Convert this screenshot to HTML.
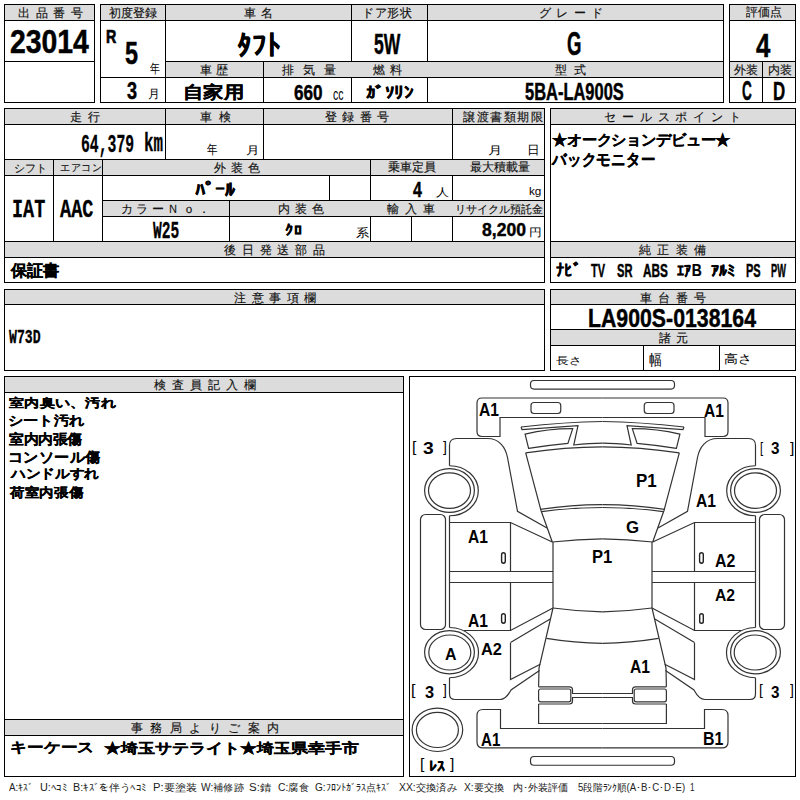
<!DOCTYPE html>
<html lang="ja"><head><meta charset="utf-8">
<style>
html,body{margin:0;padding:0;background:#fff;width:800px;height:800px;overflow:hidden;}
body{position:relative;font-family:"Liberation Sans",sans-serif;color:#000;}
.b{position:absolute;box-sizing:border-box;border:1px solid #000;}
.l{position:absolute;background:#000;}
.g{position:absolute;background:#dcdcdc;}
.lab{position:absolute;display:flex;align-items:center;color:#111;-webkit-text-stroke:0.15px #111;line-height:1;white-space:nowrap;}
.vsb,.vsn,.vmb,.vmn,.vcb,.vhb,.vkb{position:absolute;white-space:nowrap;line-height:1;transform-origin:0 0;color:#000;}
.vsb{font-weight:bold}.vcb{font-weight:bold;-webkit-text-stroke:0.25px #000}.vhb{font-weight:bold;-webkit-text-stroke:0.45px #000}.vkb{font-weight:bold;font-family:'Liberation Mono',monospace;-webkit-text-stroke:0.3px #000}.vmb{font-weight:bold;font-family:'Liberation Mono',monospace}.vmn{font-family:'Liberation Mono',monospace}
</style></head><body>
<div class="b" style="left:4px;top:4px;width:91px;height:99px"></div>
<div class="g" style="left:5px;top:5px;width:89px;height:15px"></div>
<div class="l" style="left:4px;top:20px;width:91px;height:1px"></div>
<div class="l" style="left:4px;top:61px;width:91px;height:1px"></div>
<div class="lab" style="left:18px;width:65px;top:5px;height:16px;font-size:12px;justify-content:space-between"><span>出</span><span>品</span><span>番</span><span>号</span></div>
<div class="b" style="left:100px;top:4px;width:624px;height:99px"></div>
<div class="g" style="left:101px;top:5px;width:622px;height:15px"></div>
<div class="l" style="left:100px;top:20px;width:624px;height:1px"></div>
<div class="l" style="left:165px;top:4px;width:1px;height:99px"></div>
<div class="l" style="left:351px;top:4px;width:1px;height:99px"></div>
<div class="l" style="left:427px;top:4px;width:1px;height:99px"></div>
<div class="g" style="left:166px;top:62px;width:557px;height:15px"></div>
<div class="l" style="left:165px;top:61px;width:559px;height:1px"></div>
<div class="l" style="left:100px;top:77px;width:624px;height:1px"></div>
<div class="l" style="left:263px;top:61px;width:1px;height:42px"></div>
<div class="lab" style="left:109px;width:48px;top:5px;height:16px;font-size:12px;justify-content:space-between"><span>初</span><span>度</span><span>登</span><span>録</span></div>
<div class="lab" style="left:244px;width:29px;top:5px;height:16px;font-size:12px;justify-content:space-between"><span>車</span><span>名</span></div>
<div class="lab" style="left:362px;width:50px;top:5px;height:16px;font-size:12px;justify-content:space-between"><span>ド</span><span>ア</span><span>形</span><span>状</span></div>
<div class="lab" style="left:539px;width:64px;top:5px;height:16px;font-size:12px;justify-content:space-between"><span>グ</span><span>レ</span><span>ー</span><span>ド</span></div>
<div class="lab" style="left:200px;width:28px;top:62px;height:16px;font-size:12px;justify-content:space-between"><span>車</span><span>歴</span></div>
<div class="lab" style="left:282px;width:54px;top:62px;height:16px;font-size:12px;justify-content:space-between"><span>排</span><span>気</span><span>量</span></div>
<div class="lab" style="left:373px;width:29px;top:62px;height:16px;font-size:12px;justify-content:space-between"><span>燃</span><span>料</span></div>
<div class="lab" style="left:555px;width:31px;top:62px;height:16px;font-size:12px;justify-content:space-between"><span>型</span><span>式</span></div>
<div class="b" style="left:729px;top:4px;width:67px;height:99px"></div>
<div class="g" style="left:730px;top:5px;width:65px;height:15px"></div>
<div class="l" style="left:729px;top:20px;width:67px;height:1px"></div>
<div class="g" style="left:730px;top:62px;width:65px;height:15px"></div>
<div class="l" style="left:729px;top:61px;width:67px;height:1px"></div>
<div class="l" style="left:729px;top:77px;width:67px;height:1px"></div>
<div class="l" style="left:762px;top:61px;width:1px;height:42px"></div>
<div class="lab" style="left:746px;width:34px;top:5px;height:16px;font-size:11.5px;justify-content:space-between"><span>評</span><span>価</span><span>点</span></div>
<div class="lab" style="left:734px;width:24px;top:62px;height:16px;font-size:12px;justify-content:space-between"><span>外</span><span>装</span></div>
<div class="lab" style="left:767.5px;width:24.5px;top:62px;height:16px;font-size:12px;justify-content:space-between"><span>内</span><span>装</span></div>
<div class="b" style="left:4px;top:108px;width:541px;height:175px"></div>
<div class="g" style="left:5px;top:109px;width:539px;height:15px"></div>
<div class="l" style="left:4px;top:124px;width:541px;height:1px"></div>
<div class="l" style="left:165px;top:108px;width:1px;height:52px"></div>
<div class="l" style="left:263px;top:108px;width:1px;height:52px"></div>
<div class="l" style="left:452px;top:108px;width:1px;height:134px"></div>
<div class="l" style="left:4px;top:159px;width:541px;height:1px"></div>
<div class="g" style="left:5px;top:160px;width:539px;height:15px"></div>
<div class="l" style="left:4px;top:175px;width:541px;height:1px"></div>
<div class="l" style="left:53px;top:159px;width:1px;height:83px"></div>
<div class="l" style="left:102px;top:159px;width:1px;height:83px"></div>
<div class="l" style="left:370px;top:159px;width:1px;height:83px"></div>
<div class="l" style="left:329px;top:175px;width:1px;height:26px"></div>
<div class="l" style="left:102px;top:200px;width:443px;height:1px"></div>
<div class="g" style="left:103px;top:201px;width:441px;height:15px"></div>
<div class="l" style="left:102px;top:216px;width:443px;height:1px"></div>
<div class="l" style="left:229px;top:200px;width:1px;height:42px"></div>
<div class="l" style="left:411px;top:216px;width:1px;height:26px"></div>
<div class="l" style="left:4px;top:241px;width:541px;height:1px"></div>
<div class="g" style="left:5px;top:242px;width:539px;height:15px"></div>
<div class="l" style="left:4px;top:257px;width:541px;height:1px"></div>
<div class="lab" style="left:70px;width:30px;top:109px;height:16px;font-size:12px;justify-content:space-between"><span>走</span><span>行</span></div>
<div class="lab" style="left:200px;width:31px;top:109px;height:16px;font-size:12px;justify-content:space-between"><span>車</span><span>検</span></div>
<div class="lab" style="left:325px;width:64px;top:109px;height:16px;font-size:12px;justify-content:space-between"><span>登</span><span>録</span><span>番</span><span>号</span></div>
<div class="lab" style="left:463px;width:79.70000000000005px;top:109px;height:16px;font-size:12px;justify-content:space-between"><span>譲</span><span>渡</span><span>書</span><span>類</span><span>期</span><span>限</span></div>
<div class="lab" style="left:14px;width:31.5px;top:160px;height:16px;font-size:10.5px;justify-content:space-between"><span>シ</span><span>フ</span><span>ト</span></div>
<div class="lab" style="left:60px;width:41.5px;top:160px;height:16px;font-size:10.3px;justify-content:space-between"><span>エ</span><span>ア</span><span>コ</span><span>ン</span></div>
<div class="lab" style="left:214px;width:46px;top:160px;height:16px;font-size:12px;justify-content:space-between"><span>外</span><span>装</span><span>色</span></div>
<div class="lab" style="left:387.5px;width:47.5px;top:160px;height:16px;font-size:11.8px;justify-content:space-between"><span>乗</span><span>車</span><span>定</span><span>員</span></div>
<div class="lab" style="left:469.5px;width:59.25px;top:160px;height:16px;font-size:11.8px;justify-content:space-between"><span>最</span><span>大</span><span>積</span><span>載</span><span>量</span></div>
<div class="lab" style="left:121px;width:89px;top:201px;height:16px;font-size:12px;justify-content:space-between"><span>カ</span><span>ラ</span><span>ー</span><span>Ｎ</span><span>ｏ</span><span>．</span></div>
<div class="lab" style="left:278px;width:46px;top:201px;height:16px;font-size:12px;justify-content:space-between"><span>内</span><span>装</span><span>色</span></div>
<div class="lab" style="left:387px;width:48px;top:201px;height:16px;font-size:12px;justify-content:space-between"><span>輸</span><span>入</span><span>車</span></div>
<div class="lab" style="left:455px;width:86.79999999999995px;top:201px;height:16px;font-size:10.8px;justify-content:space-between"><span>リ</span><span>サ</span><span>イ</span><span>ク</span><span>ル</span><span>預</span><span>託</span><span>金</span></div>
<div class="lab" style="left:224px;width:101px;top:242px;height:16px;font-size:12px;justify-content:space-between"><span>後</span><span>日</span><span>発</span><span>送</span><span>部</span><span>品</span></div>
<div class="b" style="left:550px;top:108px;width:246px;height:175px"></div>
<div class="g" style="left:551px;top:109px;width:244px;height:15px"></div>
<div class="l" style="left:550px;top:124px;width:246px;height:1px"></div>
<div class="g" style="left:551px;top:242px;width:244px;height:15px"></div>
<div class="l" style="left:550px;top:241px;width:246px;height:1px"></div>
<div class="l" style="left:550px;top:257px;width:246px;height:1px"></div>
<div class="lab" style="left:604px;width:137px;top:109px;height:16px;font-size:12px;justify-content:space-between"><span>セ</span><span>ー</span><span>ル</span><span>ス</span><span>ポ</span><span>イ</span><span>ン</span><span>ト</span></div>
<div class="lab" style="left:639px;width:67px;top:242px;height:16px;font-size:12px;justify-content:space-between"><span>純</span><span>正</span><span>装</span><span>備</span></div>
<div class="b" style="left:4px;top:289px;width:541px;height:82px"></div>
<div class="g" style="left:5px;top:290px;width:539px;height:14px"></div>
<div class="l" style="left:4px;top:304px;width:541px;height:1px"></div>
<div class="lab" style="left:234px;width:82px;top:290px;height:15px;font-size:12px;justify-content:space-between"><span>注</span><span>意</span><span>事</span><span>項</span><span>欄</span></div>
<div class="b" style="left:550px;top:289px;width:246px;height:82px"></div>
<div class="g" style="left:551px;top:290px;width:244px;height:14px"></div>
<div class="l" style="left:550px;top:304px;width:246px;height:1px"></div>
<div class="g" style="left:551px;top:330px;width:244px;height:15px"></div>
<div class="l" style="left:550px;top:329px;width:246px;height:1px"></div>
<div class="l" style="left:550px;top:345px;width:246px;height:1px"></div>
<div class="l" style="left:643px;top:345px;width:1px;height:26px"></div>
<div class="l" style="left:719px;top:345px;width:1px;height:26px"></div>
<div class="lab" style="left:640px;width:66px;top:290px;height:15px;font-size:12px;justify-content:space-between"><span>車</span><span>台</span><span>番</span><span>号</span></div>
<div class="lab" style="left:659px;width:29px;top:330px;height:16px;font-size:12px;justify-content:space-between"><span>諸</span><span>元</span></div>
<div class="b" style="left:4px;top:376px;width:400px;height:401px"></div>
<div class="g" style="left:5px;top:377px;width:398px;height:15px"></div>
<div class="l" style="left:4px;top:392px;width:400px;height:1px"></div>
<div class="g" style="left:5px;top:720px;width:398px;height:15px"></div>
<div class="l" style="left:4px;top:719px;width:400px;height:1px"></div>
<div class="l" style="left:4px;top:735px;width:400px;height:1px"></div>
<div class="lab" style="left:154px;width:102px;top:377px;height:16px;font-size:12px;justify-content:space-between"><span>検</span><span>査</span><span>員</span><span>記</span><span>入</span><span>欄</span></div>
<div class="lab" style="left:131px;width:148px;top:720px;height:16px;font-size:12px;justify-content:space-between"><span>事</span><span>務</span><span>局</span><span>よ</span><span>り</span><span>ご</span><span>案</span><span>内</span></div>
<div class="b" style="left:409px;top:376px;width:387px;height:401px"></div>
<svg width="800" height="800" viewBox="0 0 800 800" style="position:absolute;left:0;top:0"><g fill="none" stroke="#333" stroke-width="1.2"><g id="hf">
<path d="M602.5 398H482Q477 398 477 403V431.5Q477 436.5 482 436.5H500V417.5H602.5"/>
<rect x="531" y="402.5" width="29.75" height="11" rx="3"/>
<path d="M521 427Q565 422 602.5 421.5"/>
<path d="M521 427L522 429.5L578 425.6L573.75 445Q590 443.3 602.5 443.2"/>
<path d="M525.1 434.2Q548.9 428.55 572.7 428.7L567.9 443.4Q547.75 445.3 528.6 448.4Z"/>
<path d="M525.7 452.8Q565 447 602.5 446.8"/>
<path d="M525.7 452.8L541 510.5L552.3 542"/>
<path d="M540.25 509.3Q572 504.5 602.5 504.6"/>
<path d="M541.75 511.7Q572 507.5 602.5 507.5"/>
<path d="M552.3 542Q578 539 602.5 538.8"/>
<path d="M449.5 465.75V445.5Q449.5 438.5 456.5 438.5H487.5C499 438.5 505.5 447 507.5 457.5L517.5 511.25L547 528"/>
<path d="M449.5 465.75A28.8 25 0 0 1 449.5 515.75"/>
<ellipse cx="449.5" cy="490.5" rx="24.9" ry="21.9"/>
<ellipse cx="449.5" cy="490.6" rx="21" ry="17.8"/>
<rect x="420.5" y="514.5" width="25" height="115" rx="5"/>
<path d="M449.5 515.75V627.5"/>
<path d="M449.5 522.5H510.5L552.3 542"/>
<path d="M510.5 522.5V571.5M510.5 582.5V630.5"/>
<path d="M449.5 571.5H553M449.5 582.5H553"/>
<path d="M553 542V608"/>
<path d="M553 608Q578 611.5 602.5 611.8"/>
<path d="M463.7 630.5H510.5L553 608"/>
<path d="M449.5 627.5A29 25.1 0 0 1 449.5 677.75"/>
<ellipse cx="449.5" cy="652.2" rx="24.9" ry="21.6"/>
<ellipse cx="449.8" cy="652.5" rx="21" ry="17.5"/>
<path d="M539.5 670.5L511 690Q506 699.5 500 699.5H455Q449.5 699.5 449.5 694V677.75"/>
<path d="M510.5 642.5L550.2 619"/>
<path d="M510.5 642.75V679.5L540.25 664.2"/>
<path d="M553 608L539 668L538.6 686.8"/>
<path d="M546.5 638.3Q575 643 602.5 643.3"/>
<path d="M538.6 686.8H569.5Q572.5 686.8 572.5 689.8V693.5H602.5M602.5 697.5H572.5V701Q572.5 704 569.5 704H538.6"/>
<rect x="538.6" y="689" width="32.2" height="12.8" rx="2"/>
<path d="M538.6 704V723.5H602.5"/>
<path d="M602.5 728.5H500.5V709.5H483Q477 709.5 477 715.5V741.9Q477 747.9 483 747.9H602.5"/>
</g><g transform="matrix(-1 0 0 1 1205 0)">
<path d="M602.5 398H482Q477 398 477 403V431.5Q477 436.5 482 436.5H500V417.5H602.5"/>
<rect x="531" y="402.5" width="29.75" height="11" rx="3"/>
<path d="M521 427Q565 422 602.5 421.5"/>
<path d="M521 427L522 429.5L578 425.6L573.75 445Q590 443.3 602.5 443.2"/>
<path d="M525.1 434.2Q548.9 428.55 572.7 428.7L567.9 443.4Q547.75 445.3 528.6 448.4Z"/>
<path d="M525.7 452.8Q565 447 602.5 446.8"/>
<path d="M525.7 452.8L541 510.5L552.3 542"/>
<path d="M540.25 509.3Q572 504.5 602.5 504.6"/>
<path d="M541.75 511.7Q572 507.5 602.5 507.5"/>
<path d="M552.3 542Q578 539 602.5 538.8"/>
<path d="M449.5 465.75V445.5Q449.5 438.5 456.5 438.5H487.5C499 438.5 505.5 447 507.5 457.5L517.5 511.25L547 528"/>
<path d="M449.5 465.75A28.8 25 0 0 1 449.5 515.75"/>
<ellipse cx="449.5" cy="490.5" rx="24.9" ry="21.9"/>
<ellipse cx="449.5" cy="490.6" rx="21" ry="17.8"/>
<rect x="420.5" y="514.5" width="25" height="115" rx="5"/>
<path d="M449.5 515.75V627.5"/>
<path d="M449.5 522.5H510.5L552.3 542"/>
<path d="M510.5 522.5V571.5M510.5 582.5V630.5"/>
<path d="M449.5 571.5H553M449.5 582.5H553"/>
<path d="M553 542V608"/>
<path d="M553 608Q578 611.5 602.5 611.8"/>
<path d="M463.7 630.5H510.5L553 608"/>
<path d="M449.5 627.5A29 25.1 0 0 1 449.5 677.75"/>
<ellipse cx="449.5" cy="652.2" rx="24.9" ry="21.6"/>
<ellipse cx="449.8" cy="652.5" rx="21" ry="17.5"/>
<path d="M539.5 670.5L511 690Q506 699.5 500 699.5H455Q449.5 699.5 449.5 694V677.75"/>
<path d="M510.5 642.5L550.2 619"/>
<path d="M510.5 642.75V679.5L540.25 664.2"/>
<path d="M553 608L539 668L538.6 686.8"/>
<path d="M546.5 638.3Q575 643 602.5 643.3"/>
<path d="M538.6 686.8H569.5Q572.5 686.8 572.5 689.8V693.5H602.5M602.5 697.5H572.5V701Q572.5 704 569.5 704H538.6"/>
<rect x="538.6" y="689" width="32.2" height="12.8" rx="2"/>
<path d="M538.6 704V723.5H602.5"/>
<path d="M602.5 728.5H500.5V709.5H483Q477 709.5 477 715.5V741.9Q477 747.9 483 747.9H602.5"/>
</g>
<rect x="530.5" y="380.5" width="144" height="8.6" rx="3.5"/>
<rect x="530.5" y="756.5" width="144" height="8.75" rx="3.5"/>
<ellipse cx="437.4" cy="729.8" rx="25.3" ry="21.7"/>
<ellipse cx="437.4" cy="729.9" rx="21" ry="17.6"/>
</g><g fill="none" stroke="#222" stroke-width="1.4"><rect x="501.60" y="552.80" width="3.70" height="10.40" rx="1.85"/><rect x="501.60" y="613.70" width="3.70" height="9.50" rx="1.85"/><rect x="699.60" y="552.70" width="3.70" height="10.50" rx="1.85"/><rect x="699.70" y="613.70" width="3.60" height="9.50" rx="1.80"/></g></svg>
<div class="vhb" style="left:10.00px;top:25.00px;font-size:32px;transform:scale(0.8864,1.0455);">23014</div>
<div class="vcb" style="left:105.50px;top:27.00px;font-size:19px;transform:scale(0.7500,1.0000);-webkit-text-stroke:0.7px #000;">R</div>
<div class="vhb" style="left:125.00px;top:38.00px;font-size:31px;transform:scale(0.7545,1.0000);">5</div>
<div class="vsn" style="left:150.00px;top:62.00px;font-size:12px;transform:scale(0.8418,1.1000);">年</div>
<div class="vhb" style="left:126.50px;top:79.00px;font-size:24px;transform:scale(0.7542,1.0000);">3</div>
<div class="vsn" style="left:148.00px;top:87.50px;font-size:12px;transform:scale(1.0000,1.0129);">月</div>
<div class="vcb" style="left:237.00px;top:31.75px;font-size:28px;transform:scale(1.0500,1.0006);">ﾀﾌﾄ</div>
<div class="vhb" style="left:374.00px;top:30.00px;font-size:29px;transform:scale(0.6051,1.0000);">5W</div>
<div class="vhb" style="left:567.00px;top:28.00px;font-size:30px;transform:scale(0.6190,1.0833);">G</div>
<div class="vhb" style="left:755.50px;top:29.00px;font-size:33px;transform:scale(0.7796,1.0000);">4</div>
<div class="vcb" style="left:183.00px;top:83.50px;font-size:18px;transform:scale(1.1374,0.9488);">自家用</div>
<div class="vhb" style="left:294.00px;top:82.00px;font-size:22px;transform:scale(0.7783,1.0079);">660</div>
<div class="vsn" style="left:333.00px;top:87.00px;font-size:16px;transform:scale(0.6565,1.0283);">cc</div>
<div class="vcb" style="left:365.50px;top:85.00px;font-size:16px;transform:scale(1.1753,0.9883);">ｶﾞｿﾘﾝ</div>
<div class="vhb" style="left:524.50px;top:80.50px;font-size:23px;transform:scale(0.7155,1.0058);">5BA-LA900S</div>
<div class="vhb" style="left:741.50px;top:78.00px;font-size:27px;transform:scale(0.5051,1.0000);">C</div>
<div class="vhb" style="left:772.50px;top:77.50px;font-size:26px;transform:scale(0.6500,1.0000);">D</div>
<div class="vkb" style="left:81.00px;top:133.00px;font-size:25px;transform:scale(0.5909,1.0046);">64,379</div>
<div class="vkb" style="left:143.75px;top:132.00px;font-size:26px;transform:scale(0.6098,0.9694);">km</div>
<div class="vsn" style="left:207.00px;top:143.00px;font-size:12px;transform:scale(0.8946,1.1000);">年</div>
<div class="vsn" style="left:246.00px;top:145.00px;font-size:11px;transform:scale(1.2284,1.0000);">月</div>
<div class="vsn" style="left:487.50px;top:145.00px;font-size:11px;transform:scale(1.3008,1.0000);">月</div>
<div class="vsn" style="left:527.00px;top:144.00px;font-size:11px;transform:scale(1.1770,1.1111);">日</div>
<div class="vkb" style="left:11.75px;top:196.75px;font-size:26px;transform:scale(0.7114,1.0012);">IAT</div>
<div class="vkb" style="left:60.25px;top:198.00px;font-size:25px;transform:scale(0.7426,1.0000);">AAC</div>
<div class="vcb" style="left:194.50px;top:181.00px;font-size:20px;transform:scale(1.0057,0.8947);">ﾊﾟｰﾙ</div>
<div class="vhb" style="left:413.00px;top:179.00px;font-size:22px;transform:scale(0.7259,1.0000);">4</div>
<div class="vsn" style="left:435.50px;top:187.00px;font-size:11px;transform:scale(1.2269,1.0335);">人</div>
<div class="vsn" style="left:529.00px;top:186.00px;font-size:11px;transform:scale(1.0663,1.0521);">kg</div>
<div class="vkb" style="left:153.00px;top:220.00px;font-size:21px;transform:scale(0.6955,1.1202);">W25</div>
<div class="vcb" style="left:285.00px;top:223.00px;font-size:15px;transform:scale(1.0819,0.9399);">ｸﾛ</div>
<div class="vsn" style="left:356.00px;top:227.00px;font-size:11px;transform:scale(1.2352,1.1244);">系</div>
<div class="vhb" style="left:482.00px;top:219.50px;font-size:19px;transform:scale(0.9236,1.0138);">8,200</div>
<div class="vsn" style="left:529.00px;top:227.50px;font-size:10px;transform:scale(1.2186,1.0495);">円</div>
<div class="vcb" style="left:10.50px;top:262.00px;font-size:15px;transform:scale(1.0659,1.0550);">保証書</div>
<div class="vcb" style="left:552.00px;top:132.00px;font-size:15px;transform:scale(0.9900,0.9794);">★オークションデビュー★</div>
<div class="vcb" style="left:552.00px;top:152.00px;font-size:17px;transform:scale(0.8724,0.9639);">バックモニター</div>
<div class="vcb" style="left:556.25px;top:262.25px;font-size:17px;transform:scale(0.9441,0.9764);">ﾅﾋﾞ</div>
<div class="vhb" style="left:591.00px;top:261.00px;font-size:19px;transform:scale(0.5762,1.0000);">TV</div>
<div class="vhb" style="left:616.50px;top:262.00px;font-size:18px;transform:scale(0.6169,1.0000);">SR</div>
<div class="vhb" style="left:643.00px;top:262.00px;font-size:18px;transform:scale(0.6529,1.0000);">ABS</div>
<div class="vcb" style="left:677.00px;top:263.00px;font-size:17px;transform:scale(0.8153,0.9286);">ｴｱB</div>
<div class="vcb" style="left:711.00px;top:264.00px;font-size:16px;transform:scale(1.0038,0.9286);">ｱﾙﾐ</div>
<div class="vhb" style="left:746.25px;top:262.00px;font-size:18px;transform:scale(0.6098,1.0000);">PS</div>
<div class="vhb" style="left:771.00px;top:261.00px;font-size:19px;transform:scale(0.4860,1.0000);">PW</div>
<div class="vhb" style="left:588.00px;top:304.50px;font-size:26px;transform:scale(0.8185,1.0121);">LA900S-0138164</div>
<div class="vsn" style="left:555.50px;top:354.75px;font-size:12px;transform:scale(1.1165,0.8677);">長さ</div>
<div class="vsn" style="left:649.00px;top:353.00px;font-size:13px;transform:scale(0.9722,1.1220);">幅</div>
<div class="vsn" style="left:724.00px;top:353.00px;font-size:12px;transform:scale(1.1833,1.0200);">高さ</div>
<div class="vkb" style="left:9.00px;top:327.75px;font-size:19px;transform:scale(0.6915,1.0504);">W73D</div>
<div class="vcb" style="left:9.25px;top:397.00px;font-size:12px;transform:scale(1.2715,1.0155);">室内臭い、汚れ</div>
<div class="vcb" style="left:8.25px;top:413.75px;font-size:14px;transform:scale(1.0872,0.9311);">シート汚れ</div>
<div class="vcb" style="left:9.25px;top:431.50px;font-size:14px;transform:scale(1.0430,0.9858);">室内内張傷</div>
<div class="vcb" style="left:7.50px;top:450.25px;font-size:15px;transform:scale(1.0250,0.9531);">コンソール傷</div>
<div class="vcb" style="left:10.50px;top:466.50px;font-size:14px;transform:scale(1.0496,0.9311);">ハンドルすれ</div>
<div class="vcb" style="left:9.50px;top:486.00px;font-size:13px;transform:scale(1.1262,1.0167);">荷室内張傷</div>
<div class="vcb" style="left:9.50px;top:740.00px;font-size:16px;transform:scale(1.0540,0.8853);">キーケース</div>
<div class="vcb" style="left:104.00px;top:741.00px;font-size:14px;transform:scale(1.2143,1.0018);">★埼玉サテライト★埼玉県幸手市</div>
<div class="vsn" style="left:8.50px;top:783.30px;font-size:10px;transform:scale(0.9740,1.0000);color:#222;">A:ｷｽﾞ</div>
<div class="vsn" style="left:40.00px;top:783.30px;font-size:10px;transform:scale(1.0868,1.0000);color:#222;">U:ﾍｺﾐ</div>
<div class="vsn" style="left:72.50px;top:783.30px;font-size:10px;transform:scale(1.0747,1.0000);color:#222;">B:ｷｽﾞを伴うﾍｺﾐ</div>
<div class="vsn" style="left:152.50px;top:783.30px;font-size:10px;transform:scale(1.1215,1.0000);color:#222;">P:要塗装</div>
<div class="vsn" style="left:201.25px;top:783.30px;font-size:10px;transform:scale(1.0145,1.0000);color:#222;">W:補修跡</div>
<div class="vsn" style="left:248.50px;top:783.30px;font-size:10px;transform:scale(1.1492,1.0000);color:#222;">S:錆</div>
<div class="vsn" style="left:277.50px;top:783.30px;font-size:10px;transform:scale(1.0327,1.0000);color:#222;">C:腐食</div>
<div class="vsn" style="left:315.00px;top:783.30px;font-size:10px;transform:scale(1.0082,1.0000);color:#222;">G:ﾌﾛﾝﾄｶﾞﾗｽ点ｷｽﾞ</div>
<div class="vsn" style="left:399.00px;top:783.30px;font-size:10px;transform:scale(1.0365,1.0000);color:#222;">XX:交換済み</div>
<div class="vsn" style="left:463.50px;top:783.30px;font-size:10px;transform:scale(1.0256,1.0000);color:#222;">X:要交換</div>
<div class="vsn" style="left:512.75px;top:783.30px;font-size:10px;transform:scale(1.0082,1.0000);color:#222;">内･外装評価</div>
<div class="vsn" style="left:577.50px;top:783.30px;font-size:10px;transform:scale(0.9600,1.0000);color:#222;">5段階ﾗﾝｸ順(A･B･C･D･E)</div>
<div class="vsn" style="left:690.00px;top:783.30px;font-size:10px;transform:scale(0.8205,1.0000);color:#222;">1</div>
<div class="vsb" style="left:479.25px;top:401.25px;font-size:18px;transform:scale(0.8666,1.0032);">A1</div>
<div class="vsb" style="left:703.75px;top:401.50px;font-size:18px;transform:scale(0.8645,1.0032);">A1</div>
<div class="vsb" style="left:636.00px;top:472.25px;font-size:18px;transform:scale(0.9435,1.0024);">P1</div>
<div class="vsb" style="left:696.25px;top:491.50px;font-size:18px;transform:scale(0.8658,1.0032);">A1</div>
<div class="vsb" style="left:626.00px;top:518.75px;font-size:17px;transform:scale(0.9901,1.0000);">G</div>
<div class="vsb" style="left:592.00px;top:547.00px;font-size:19px;transform:scale(0.8728,0.9870);">P1</div>
<div class="vsb" style="left:467.75px;top:527.50px;font-size:18px;transform:scale(0.8645,1.0032);">A1</div>
<div class="vsb" style="left:467.75px;top:612.00px;font-size:18px;transform:scale(0.8645,1.0032);">A1</div>
<div class="vsb" style="left:481.25px;top:640.50px;font-size:18px;transform:scale(0.9091,0.9253);">A2</div>
<div class="vsb" style="left:445.25px;top:645.50px;font-size:18px;transform:scale(0.8860,0.9253);">A</div>
<div class="vsb" style="left:715.00px;top:552.00px;font-size:18px;transform:scale(0.8821,1.0032);">A2</div>
<div class="vsb" style="left:715.00px;top:587.00px;font-size:17px;transform:scale(0.9241,0.9862);">A2</div>
<div class="vsb" style="left:630.00px;top:658.00px;font-size:18px;transform:scale(0.8658,1.0032);">A1</div>
<div class="vsb" style="left:480.50px;top:730.50px;font-size:18px;transform:scale(0.8379,1.0032);">A1</div>
<div class="vsb" style="left:703.00px;top:730.00px;font-size:19px;transform:scale(0.8372,0.9253);">B1</div>
<div class="vsn" style="left:411.50px;top:440.25px;font-size:15px;transform:scale(1.0421,0.9305);">[</div>
<div class="vsb" style="left:423.25px;top:440.25px;font-size:17px;transform:scale(1.1308,1.0024);">3</div>
<div class="vsn" style="left:442.50px;top:440.25px;font-size:15px;transform:scale(0.9280,0.9305);">]</div>
<div class="vsn" style="left:759.50px;top:439.50px;font-size:15px;transform:scale(0.7500,1.0000);">[</div>
<div class="vsb" style="left:770.75px;top:440.00px;font-size:17px;transform:scale(0.8936,1.0000);">3</div>
<div class="vsn" style="left:789.50px;top:439.50px;font-size:15px;transform:scale(1.0421,1.0000);">]</div>
<div class="vsn" style="left:411.00px;top:682.00px;font-size:15px;transform:scale(1.0667,1.0289);">[</div>
<div class="vsb" style="left:425.00px;top:684.25px;font-size:17px;transform:scale(0.9604,1.0024);">3</div>
<div class="vsn" style="left:442.50px;top:682.00px;font-size:15px;transform:scale(0.9280,1.0289);">]</div>
<div class="vsn" style="left:758.50px;top:681.75px;font-size:15px;transform:scale(0.9280,1.0289);">[</div>
<div class="vsb" style="left:770.75px;top:684.25px;font-size:17px;transform:scale(0.8936,1.0000);">3</div>
<div class="vsn" style="left:789.50px;top:681.75px;font-size:15px;transform:scale(0.9280,1.0289);">]</div>
<div class="vsn" style="left:419.50px;top:755.50px;font-size:15px;transform:scale(1.0421,1.0000);">[</div>
<div class="vcb" style="left:429.00px;top:760.00px;font-size:16px;transform:scale(0.9802,0.8592);">ﾚｽ</div>
<div class="vsn" style="left:450.25px;top:755.50px;font-size:15px;transform:scale(1.0421,1.0000);">]</div>
</body></html>
